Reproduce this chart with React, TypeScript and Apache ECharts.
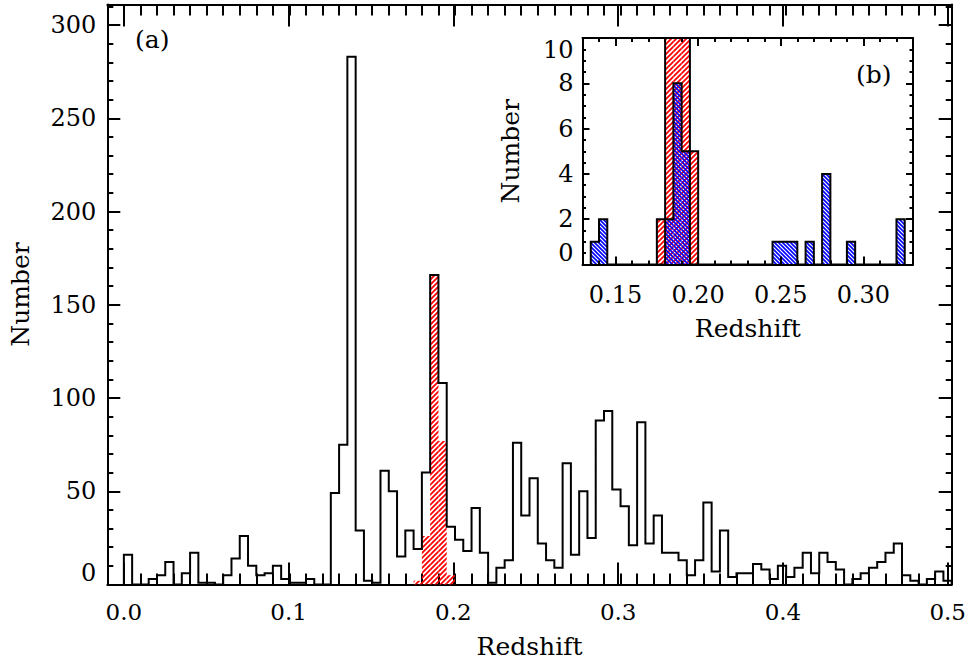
import React, { useEffect, useRef } from 'react';
import * as echarts from 'echarts';

// ---------------- data ----------------
const BIN_WIDTH = 0.005;
// main histogram (all galaxies), 100 bins of 0.005 from 0.000 to 0.500
const mainCounts = [
  16, 0, 0, 3, 5, 12, 0, 6, 17, 1,
  1, 0, 5, 14, 26, 10, 5, 6, 10, 3,
  1, 1, 3, 0, 0, 49, 75, 283, 29, 2,
  1, 61, 50, 15, 29, 19, 60, 166, 108, 31,
  24, 18, 41, 17, 1, 9, 13, 76, 37, 57,
  22, 13, 9, 65, 16, 50, 25, 88, 93, 51,
  42, 21, 87, 22, 37, 17, 17, 13, 5, 13,
  44, 7, 29, 4, 6, 6, 11, 8, 3, 10,
  4, 9, 17, 6, 17, 12, 8, 0, 3, 6,
  9, 12, 17, 22, 5, 2, 0, 3, 7, 2,
];
const mainBinStarts = mainCounts.map((_, i) => Math.round(i * BIN_WIDTH * 1000) / 1000);
// red hatched subsample
const redBinStarts = [0.175, 0.18, 0.185, 0.19, 0.195];
const redCounts = [2, 26, 166, 77, 5];
// blue hatched subsample (inset)
const blueBinStarts = [0.135, 0.14, 0.18, 0.185, 0.19, 0.245, 0.25, 0.255, 0.265, 0.275, 0.29, 0.32];
const blueCounts = [1, 2, 2, 8, 5, 1, 1, 1, 1, 4, 1, 2];
// axes
const mainXRange = [-0.01, 0.5];
const mainXTickRange = [0, 0.5];
const mainYRange = [0, 311];
const insetXRange = [0.13, 0.33];
const insetXTickRange = [0.15, 0.3];
const insetYRange = [0, 10];

// ---------------- style ----------------
const FONT = 'DejaVu Serif';
const TICK_FS = 24;
const TITLE_FS = 25;
const BLACK = '#000';

const svgUrl = (s: string) => 'data:image/svg+xml;charset=utf-8,' + encodeURIComponent(s);
const redHatch = {
  image: svgUrl('<svg xmlns="http://www.w3.org/2000/svg" width="5" height="5"><path d="M-1 6L6 -1M-1 1L1 -1M4 6L6 4" stroke="#ff0000" stroke-width="1.8" fill="none"/></svg>'),
  repeat: 'repeat',
  imageWidth: 5,
  imageHeight: 5,
};
const blueHatch = {
  image: svgUrl('<svg xmlns="http://www.w3.org/2000/svg" width="4" height="4"><path d="M-1 -1L5 5M3 -1L5 1M-1 3L1 5" stroke="#0000ff" stroke-width="1.6" fill="none"/></svg>'),
  repeat: 'repeat',
  imageWidth: 4,
  imageHeight: 4,
};

function stepOutline(starts: number[], counts: number[], w: number): number[][] {
  const pts: number[][] = [];
  for (let i = 0; i < starts.length; i++) {
    const s = starts[i];
    const prevEnd = i > 0 ? starts[i - 1] + w : null;
    if (prevEnd === null || Math.abs(s - prevEnd) > 1e-9) {
      if (prevEnd !== null) pts.push([prevEnd, 0]);
      pts.push([s, 0]);
    }
    pts.push([s, counts[i]]);
  }
  const end = starts[starts.length - 1] + w;
  pts.push([end, counts[counts.length - 1]]);
  pts.push([end, 0]);
  return pts;
}

const binRects = (starts: number[], counts: number[]) => starts.map((s, i) => [s, s + BIN_WIDTH, counts[i]]);

const hatchRenderer = (fill: any) => (params: any, api: any) => {
  const a = api.coord([api.value(0), api.value(2)]);
  const b = api.coord([api.value(1), 0]);
  const cs = params.coordSys;
  const shape = echarts.graphic.clipRectByRect(
    { x: a[0], y: a[1], width: b[0] - a[0], height: b[1] - a[1] },
    { x: cs.x, y: cs.y, width: cs.width, height: cs.height }
  );
  if (!shape) return null;
  return { type: 'rect', shape, style: { fill, stroke: 'none' } };
};

type AxOpts = {
  grid: number; pos?: string; range: number[]; interval?: number; len?: number; line?: boolean;
  labels?: any; name?: string; nameGap?: number; z?: number; hidden?: boolean;
};
function ax(o: AxOpts): any {
  if (o.hidden) return { gridIndex: o.grid, type: 'value', min: o.range[0], max: o.range[1], show: false };
  const vertical = o.pos === 'left' || o.pos === 'right';
  return {
    gridIndex: o.grid, type: 'value', position: o.pos, min: o.range[0], max: o.range[1], interval: o.interval,
    z: o.z ?? 0,
    axisLine: { show: !!o.line, onZero: false, lineStyle: { color: BLACK, width: 2 } },
    axisTick: { show: true, inside: true, length: o.len, lineStyle: { color: BLACK, width: 2 } },
    axisLabel: o.labels ? { show: true, color: BLACK, fontFamily: FONT, fontSize: TICK_FS, ...o.labels } : { show: false },
    splitLine: { show: false },
    minorTick: { show: false },
    name: o.name ?? '',
    nameLocation: 'middle',
    nameGap: o.nameGap ?? 0,
    nameRotate: vertical ? 90 : 0,
    nameTextStyle: { color: BLACK, fontFamily: FONT, fontSize: TITLE_FS },
  };
}

const MAIN = { left: 107.3, top: 4.5, width: 844.4, height: 580 };
const mainPx = MAIN.width / (mainXRange[1] - mainXRange[0]);
const MAIN_MAJ = { left: MAIN.left + (mainXTickRange[0] - mainXRange[0]) * mainPx, top: MAIN.top, width: (mainXTickRange[1] - mainXTickRange[0]) * mainPx, height: MAIN.height };
const INSET = { left: 582.5, top: 38, width: 330.5, height: 226.5 };
const insetPx = INSET.width / (insetXRange[1] - insetXRange[0]);
const INSET_MAJ = { left: INSET.left + (insetXTickRange[0] - insetXRange[0]) * insetPx, top: INSET.top, width: (insetXTickRange[1] - insetXTickRange[0]) * insetPx, height: INSET.height };

const IZ = 9;

const option: any = {
  animation: false,
  backgroundColor: '#fff',
  textStyle: { fontFamily: FONT },
  grid: [
    { ...MAIN },
    { ...MAIN },
    { ...MAIN_MAJ },
    { ...INSET, show: true, backgroundColor: '#fff', borderWidth: 0, z: 5 },
    { ...INSET },
    { ...INSET_MAJ },
  ],
  xAxis: [
    ax({ grid: 0, pos: 'bottom', range: mainXRange, interval: 0.01, len: 11, line: true, name: 'Redshift', nameGap: 49 }),
    ax({ grid: 0, pos: 'top', range: mainXRange, interval: 0.01, len: 11, line: true }),
    ax({ grid: 1, range: mainXRange, hidden: true }),
    ax({ grid: 2, pos: 'bottom', range: mainXTickRange, interval: 0.1, len: 22, labels: { margin: 16, fontSize: 23, formatter: (v: number) => v.toFixed(1) } }),
    ax({ grid: 2, pos: 'top', range: mainXTickRange, interval: 0.1, len: 22 }),
    ax({ grid: 3, pos: 'bottom', range: insetXRange, interval: 0.01, len: 4, line: true, name: 'Redshift', nameGap: 51, z: IZ }),
    ax({ grid: 3, pos: 'top', range: insetXRange, interval: 0.01, len: 4, line: true, z: IZ }),
    ax({ grid: 4, range: insetXRange, hidden: true }),
    ax({ grid: 5, pos: 'bottom', range: insetXTickRange, interval: 0.05, len: 8, z: IZ, labels: { margin: 18, formatter: (v: number) => v.toFixed(2) } }),
    ax({ grid: 5, pos: 'top', range: insetXTickRange, interval: 0.05, len: 8, z: IZ }),
  ],
  yAxis: [
    ax({ grid: 0, pos: 'left', range: mainYRange, interval: 10, len: 6, line: true, name: 'Number', nameGap: 74 }),
    ax({ grid: 0, pos: 'right', range: mainYRange, interval: 10, len: 6, line: true }),
    ax({ grid: 1, pos: 'left', range: mainYRange, interval: 50, len: 13, labels: { margin: 11, verticalAlignMinLabel: 'bottom', formatter: (v: number) => (v % 50 === 0 ? String(v) : '') } }),
    ax({ grid: 1, pos: 'right', range: mainYRange, interval: 50, len: 13 }),
    ax({ grid: 2, range: mainYRange, hidden: true }),
    ax({ grid: 3, pos: 'left', range: insetYRange, interval: 0.5, len: 3.5, line: true, name: 'Number', nameGap: 60, z: IZ }),
    ax({ grid: 3, pos: 'right', range: insetYRange, interval: 0.5, len: 3.5, line: true, z: IZ }),
    ax({ grid: 4, pos: 'left', range: insetYRange, interval: 2, len: 7, z: IZ, labels: { margin: 9, verticalAlignMinLabel: 'bottom', verticalAlignMaxLabel: 'top', formatter: (v: number) => String(v) } }),
    ax({ grid: 4, pos: 'right', range: insetYRange, interval: 2, len: 7, z: IZ }),
    ax({ grid: 5, range: insetYRange, hidden: true }),
  ],
  series: [
    {
      type: 'custom', xAxisIndex: 0, yAxisIndex: 0, z: 2, silent: true,
      renderItem: hatchRenderer(redHatch), encode: { x: [0, 1], y: 2 },
      data: binRects(redBinStarts, redCounts),
    },
    {
      type: 'line', xAxisIndex: 0, yAxisIndex: 0, z: 3, silent: true, step: 'end', symbol: 'none',
      lineStyle: { color: BLACK, width: 2, join: 'miter' },
      data: stepOutline(mainBinStarts, mainCounts, BIN_WIDTH),
    },
    {
      type: 'custom', xAxisIndex: 5, yAxisIndex: 5, z: 6, silent: true,
      renderItem: hatchRenderer(redHatch), encode: { x: [0, 1], y: 2 },
      data: binRects(redBinStarts, redCounts),
    },
    {
      type: 'custom', xAxisIndex: 5, yAxisIndex: 5, z: 7, silent: true,
      renderItem: hatchRenderer(blueHatch), encode: { x: [0, 1], y: 2 },
      data: binRects(blueBinStarts, blueCounts),
    },
    {
      type: 'line', xAxisIndex: 5, yAxisIndex: 5, z: 8, silent: true, step: 'end', symbol: 'none', clip: true,
      lineStyle: { color: BLACK, width: 2, join: 'miter' },
      data: stepOutline(redBinStarts, redCounts, BIN_WIDTH),
    },
    {
      type: 'line', xAxisIndex: 5, yAxisIndex: 5, z: 8, silent: true, step: 'end', symbol: 'none', clip: true,
      lineStyle: { color: BLACK, width: 2, join: 'miter' },
      data: stepOutline(blueBinStarts, blueCounts, BIN_WIDTH),
    },
  ],
  graphic: [
    { type: 'text', x: 135, y: 39, z: 20, style: { text: '(a)', fill: BLACK, font: `${TITLE_FS}px "${FONT}"`, verticalAlign: 'middle' } },
    { type: 'text', x: 856, y: 74, z: 20, style: { text: '(b)', fill: BLACK, font: `${TITLE_FS}px "${FONT}"`, verticalAlign: 'middle' } },
  ],
};

export default function App() {
  const ref = useRef<HTMLDivElement>(null);
  useEffect(() => {
    if (!ref.current) return;
    const chart = echarts.init(ref.current, undefined, { renderer: 'svg', width: 969, height: 665 });
    chart.setOption(option);
    return () => chart.dispose();
  }, []);
  return <div ref={ref} style={{ position: 'fixed', left: 0, top: 0, width: 969, height: 665, background: '#fff' }} />;
}
